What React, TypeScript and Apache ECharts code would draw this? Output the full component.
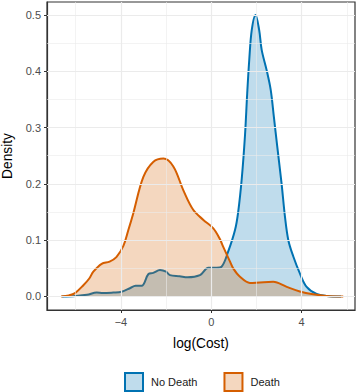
import React, { useEffect, useRef } from "react";
import * as echarts from "echarts";

const noDeathX = [-6.6, -6.0, -5.5, -5.07, -4.8, -4.34, -3.97, -3.6, -3.35, -3.08, -2.78, -2.57, -2.27, -2.0, -1.83, -1.4, -1.05, -0.5, -0.13, 0.24, 0.46, 0.75, 1.05, 1.19, 1.35, 1.49, 1.59, 1.68, 1.79, 1.96, 2.12, 2.23, 2.45, 2.63, 2.77, 2.92, 3.11, 3.26, 3.41, 3.63, 3.92, 4.22, 4.66, 5.1, 5.74];
const noDeathY = [0, 0.001, 0.003, 0.007, 0.006, 0.007, 0.0085, 0.0146, 0.019, 0.019, 0.04, 0.042, 0.047, 0.044, 0.038, 0.036, 0.034, 0.038, 0.051, 0.051, 0.053, 0.08, 0.118, 0.15, 0.21, 0.285, 0.361, 0.42, 0.473, 0.5, 0.473, 0.438, 0.402, 0.367, 0.319, 0.266, 0.201, 0.142, 0.1, 0.071, 0.041, 0.017, 0.0044, 0.001, 0];

const deathX = [-6.65, -6.3, -6.03, -5.66, -5.4, -5.22, -4.85, -4.5, -4.2, -3.89, -3.67, -3.45, -3.01, -2.57, -2.12, -1.68, -1.24, -0.8, -0.35, 0.09, 0.38, 0.53, 0.83, 0.97, 1.27, 1.71, 2.15, 2.74, 3.34, 3.92, 4.51, 5.1, 5.84];
const deathY = [0, 0.002, 0.006, 0.02, 0.032, 0.044, 0.058, 0.062, 0.07, 0.09, 0.118, 0.148, 0.212, 0.239, 0.245, 0.231, 0.189, 0.154, 0.136, 0.121, 0.102, 0.088, 0.062, 0.05, 0.035, 0.024, 0.025, 0.026, 0.017, 0.009, 0.004, 0.001, 0];

const xTicks = [-4, 0, 4];
const xMinor = [-6, -2, 2, 6];
const yTicks = [0, 0.1, 0.2, 0.3, 0.4, 0.5];
const yMinor = [0.05, 0.15, 0.25, 0.35, 0.45];

const seriesNames = ["No Death", "Death"];
const lineColors = ["#0072B2", "#D55E00"];

const zip = (xs: number[], ys: number[]) => xs.map((x, i) => [x, ys[i]]);

export default function App() {
  const ref = useRef<HTMLDivElement>(null);
  useEffect(() => {
    if (!ref.current) return;
    const chart = echarts.init(ref.current, undefined, { renderer: "svg" });
    const minorStyle = { color: "#ebebeb", width: 0.6, type: "solid" };
    const majorStyle = { color: "#ebebeb", width: 1.2, type: "solid" };
    const gridLines = [
      ...xMinor.map((v) => ({ xAxis: v, lineStyle: minorStyle })),
      ...yMinor.map((v) => ({ yAxis: v, lineStyle: minorStyle })),
      ...xTicks.map((v) => ({ xAxis: v, lineStyle: majorStyle })),
      ...yTicks.map((v) => ({ yAxis: v, lineStyle: majorStyle })),
    ];
    const fmtMinus = (s: string) => s.replace("-", "\u2212");
    chart.setOption({
      animation: false,
      backgroundColor: "#ffffff",
      textStyle: { fontFamily: "Liberation Sans, Arial, sans-serif" },
      grid: {
        left: 47,
        right: 2,
        top: 2,
        bottom: 82,
        show: true,
        borderColor: "#333333",
        borderWidth: 1.2,
        backgroundColor: "transparent",
        containLabel: false,
        outerBoundsMode: "none",
      },
      legend: {
        left: 124,
        top: 372,
        padding: 0,
        itemWidth: 18,
        itemHeight: 18,
        itemGap: 26,
        textStyle: { fontSize: 11, color: "#1a1a1a", padding: [0, 0, 0, 3] },
        data: seriesNames.map((n, i) => ({
          name: n,
          icon: "rect",
          itemStyle: {
            color: i === 0 ? "rgba(0,114,178,0.25)" : "rgba(213,94,0,0.25)",
            borderColor: lineColors[i],
            borderWidth: 2,
          },
        })),
      },
      xAxis: {
        type: "value",
        min: -7.27,
        max: 6.36,
        name: "log(Cost)",
        nameLocation: "middle",
        nameGap: 26,
        nameTextStyle: { fontSize: 13.75, color: "#000000" },
        axisLine: { show: true, onZero: false, lineStyle: { color: "#333333", width: 1.2 } },
        axisTick: { show: true, length: 3, customValues: xTicks, lineStyle: { color: "#333333" } },
        axisLabel: {
          customValues: xTicks,
          fontSize: 11,
          color: "#4d4d4d",
          margin: 6,
          formatter: (v: number) => fmtMinus(String(v)),
        },
        splitLine: { show: false },
      },
      yAxis: {
        type: "value",
        min: -0.024,
        max: 0.523,
        name: "Density",
        nameLocation: "middle",
        nameGap: 33,
        nameTextStyle: { fontSize: 13.75, color: "#000000" },
        axisLine: { show: true, onZero: false, lineStyle: { color: "#333333", width: 1.2 } },
        axisTick: { show: true, length: 3, customValues: yTicks, lineStyle: { color: "#333333" } },
        axisLabel: {
          customValues: yTicks,
          fontSize: 11,
          color: "#4d4d4d",
          margin: 6,
          formatter: (v: number) => v.toFixed(1),
        },
        splitLine: { show: false },
      },
      series: [
        {
          name: "_grid",
          type: "line",
          data: [],
          z: 0,
          silent: true,
          markLine: {
            silent: true,
            symbol: "none",
            label: { show: false },
            emphasis: { disabled: true },
            data: gridLines,
          },
        },
        {
          name: seriesNames[0],
          type: "line",
          z: 2,
          data: zip(noDeathX, noDeathY),
          smooth: 0.35,
          showSymbol: false,
          symbol: "none",
          lineStyle: { color: lineColors[0], width: 2 },
          itemStyle: { color: lineColors[0] },
          areaStyle: { color: lineColors[0], opacity: 0.25, origin: "auto" },
        },
        {
          name: seriesNames[1],
          type: "line",
          z: 3,
          data: zip(deathX, deathY),
          smooth: 0.35,
          showSymbol: false,
          symbol: "none",
          lineStyle: { color: lineColors[1], width: 2 },
          itemStyle: { color: lineColors[1] },
          areaStyle: { color: lineColors[1], opacity: 0.25, origin: "auto" },
        },
      ],
    });
    return () => chart.dispose();
  }, []);
  return (
    <div
      ref={ref}
      style={{ position: "fixed", left: 0, top: 0, width: 357, height: 392 }}
    />
  );
}
